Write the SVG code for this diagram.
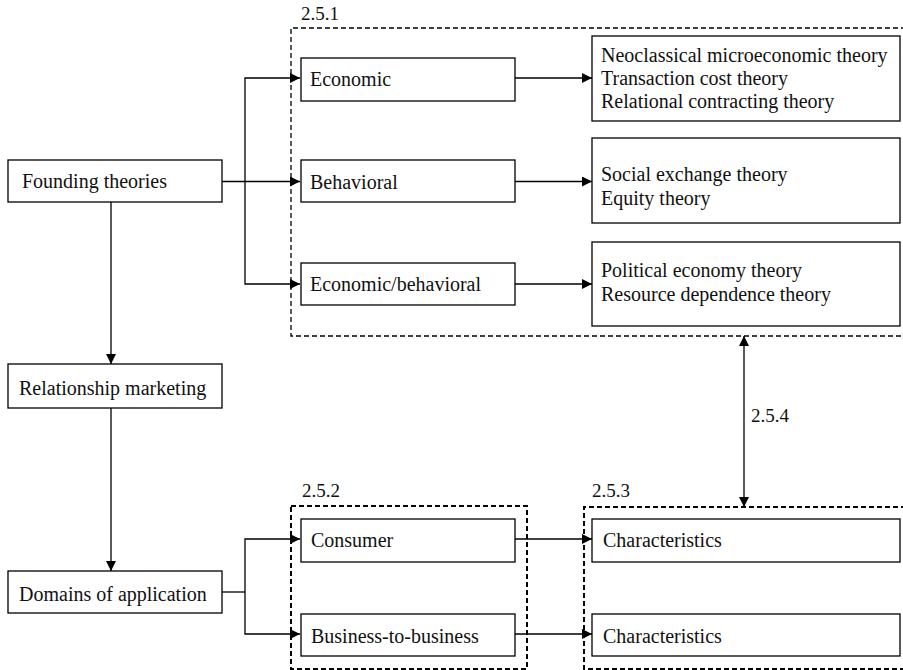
<svg xmlns="http://www.w3.org/2000/svg" width="903" height="670" viewBox="0 0 903 670">
  <style>
    .box { fill: #fff; stroke: #000; stroke-width: 1.3; }
    .grp { fill: none; stroke: #000; stroke-width: 1.3; stroke-dasharray: 5 3; }
    .grp.bold { stroke-width: 2; }
    text { font-family: 'Liberation Serif', 'DejaVu Serif', serif; fill: #111; }
    .lbl { font-size: 20px; }
    .num { font-size: 19px; }
    .conn { fill: none; stroke: #000; stroke-width: 1.3; }
  </style>
  <defs>
    <marker id="arrow" viewBox="0 0 10 10" refX="10" refY="5" markerWidth="10" markerHeight="10" markerUnits="userSpaceOnUse" orient="auto-start-reverse">
      <path d="M0,0 L10,5 L0,10 Z" fill="#000"/>
    </marker>
  </defs>

  <rect width="903" height="670" fill="#fff"/>

  <!-- dashed section groups -->
  <g id="group-2-5-1">
    <path class="grp" d="M906,28 H291 V336 H906"/>
    <text class="num" x="301" y="20">2.5.1</text>
  </g>
  <g id="group-2-5-2">
    <rect class="grp bold" x="291" y="506" width="236" height="163"/>
    <text class="num" x="302" y="497">2.5.2</text>
  </g>
  <g id="group-2-5-3">
    <path class="grp bold" d="M906,507 H584 V669 H906"/>
    <text class="num" x="592" y="497">2.5.3</text>
  </g>

  <!-- connectors -->
  <g id="connectors">
    <path class="conn" d="M222,181.5 H300" marker-end="url(#arrow)"/>
    <path class="conn" d="M300,78 H245 V284 H300" marker-start="url(#arrow)" marker-end="url(#arrow)"/>
    <path class="conn" d="M111,202 V364" marker-end="url(#arrow)"/>
    <path class="conn" d="M111,408 V571" marker-end="url(#arrow)"/>
    <path class="conn" d="M515,78 H592" marker-end="url(#arrow)"/>
    <path class="conn" d="M515,181.5 H592" marker-end="url(#arrow)"/>
    <path class="conn" d="M515,284 H592" marker-end="url(#arrow)"/>
    <path class="conn" d="M222,592 H245"/>
    <path class="conn" d="M300,539 H245 V634 H300" marker-start="url(#arrow)" marker-end="url(#arrow)"/>
    <path class="conn" d="M515,539 H592" marker-end="url(#arrow)"/>
    <path class="conn" d="M515,634 H592" marker-end="url(#arrow)"/>
    <path class="conn" d="M744,336 V507" marker-start="url(#arrow)" marker-end="url(#arrow)"/>
    <text class="num" x="751" y="422">2.5.4</text>
  </g>

  <!-- left column -->
  <g id="founding-theories">
    <rect class="box" x="8" y="160" width="214" height="42"/>
    <text class="lbl" x="22" y="188">Founding theories</text>
  </g>
  <g id="relationship-marketing">
    <rect class="box" x="8" y="364" width="214" height="44"/>
    <text class="lbl" x="19" y="395">Relationship marketing</text>
  </g>
  <g id="domains-of-application">
    <rect class="box" x="8" y="571" width="214" height="42"/>
    <text class="lbl" x="19" y="601">Domains of application</text>
  </g>

  <!-- theory categories -->
  <g id="economic">
    <rect class="box" x="301" y="58" width="214" height="43"/>
    <text class="lbl" x="310" y="86">Economic</text>
  </g>
  <g id="behavioral">
    <rect class="box" x="301" y="160" width="214" height="42"/>
    <text class="lbl" x="310" y="189">Behavioral</text>
  </g>
  <g id="economic-behavioral">
    <rect class="box" x="301" y="263" width="214" height="42"/>
    <text class="lbl" x="310" y="291">Economic/behavioral</text>
  </g>

  <!-- theory lists -->
  <g id="economic-theories">
    <rect class="box" x="592" y="36" width="308" height="85"/>
    <text class="lbl" x="601" y="62">Neoclassical microeconomic theory</text>
    <text class="lbl" x="601" y="85">Transaction cost theory</text>
    <text class="lbl" x="601" y="108">Relational contracting theory</text>
  </g>
  <g id="behavioral-theories">
    <rect class="box" x="592" y="138" width="308" height="85"/>
    <text class="lbl" x="601" y="181">Social exchange theory</text>
    <text class="lbl" x="601" y="205">Equity theory</text>
  </g>
  <g id="economic-behavioral-theories">
    <rect class="box" x="592" y="242" width="308" height="84"/>
    <text class="lbl" x="601" y="277">Political economy theory</text>
    <text class="lbl" x="601" y="301">Resource dependence theory</text>
  </g>

  <!-- application domains -->
  <g id="consumer">
    <rect class="box" x="301" y="519" width="214" height="43"/>
    <text class="lbl" x="311" y="547">Consumer</text>
  </g>
  <g id="business-to-business">
    <rect class="box" x="301" y="614" width="214" height="42"/>
    <text class="lbl" x="311" y="643">Business-to-business</text>
  </g>
  <g id="consumer-characteristics">
    <rect class="box" x="592" y="519" width="308" height="43"/>
    <text class="lbl" x="603" y="547">Characteristics</text>
  </g>
  <g id="b2b-characteristics">
    <rect class="box" x="592" y="614" width="308" height="42"/>
    <text class="lbl" x="603" y="643">Characteristics</text>
  </g>
</svg>
